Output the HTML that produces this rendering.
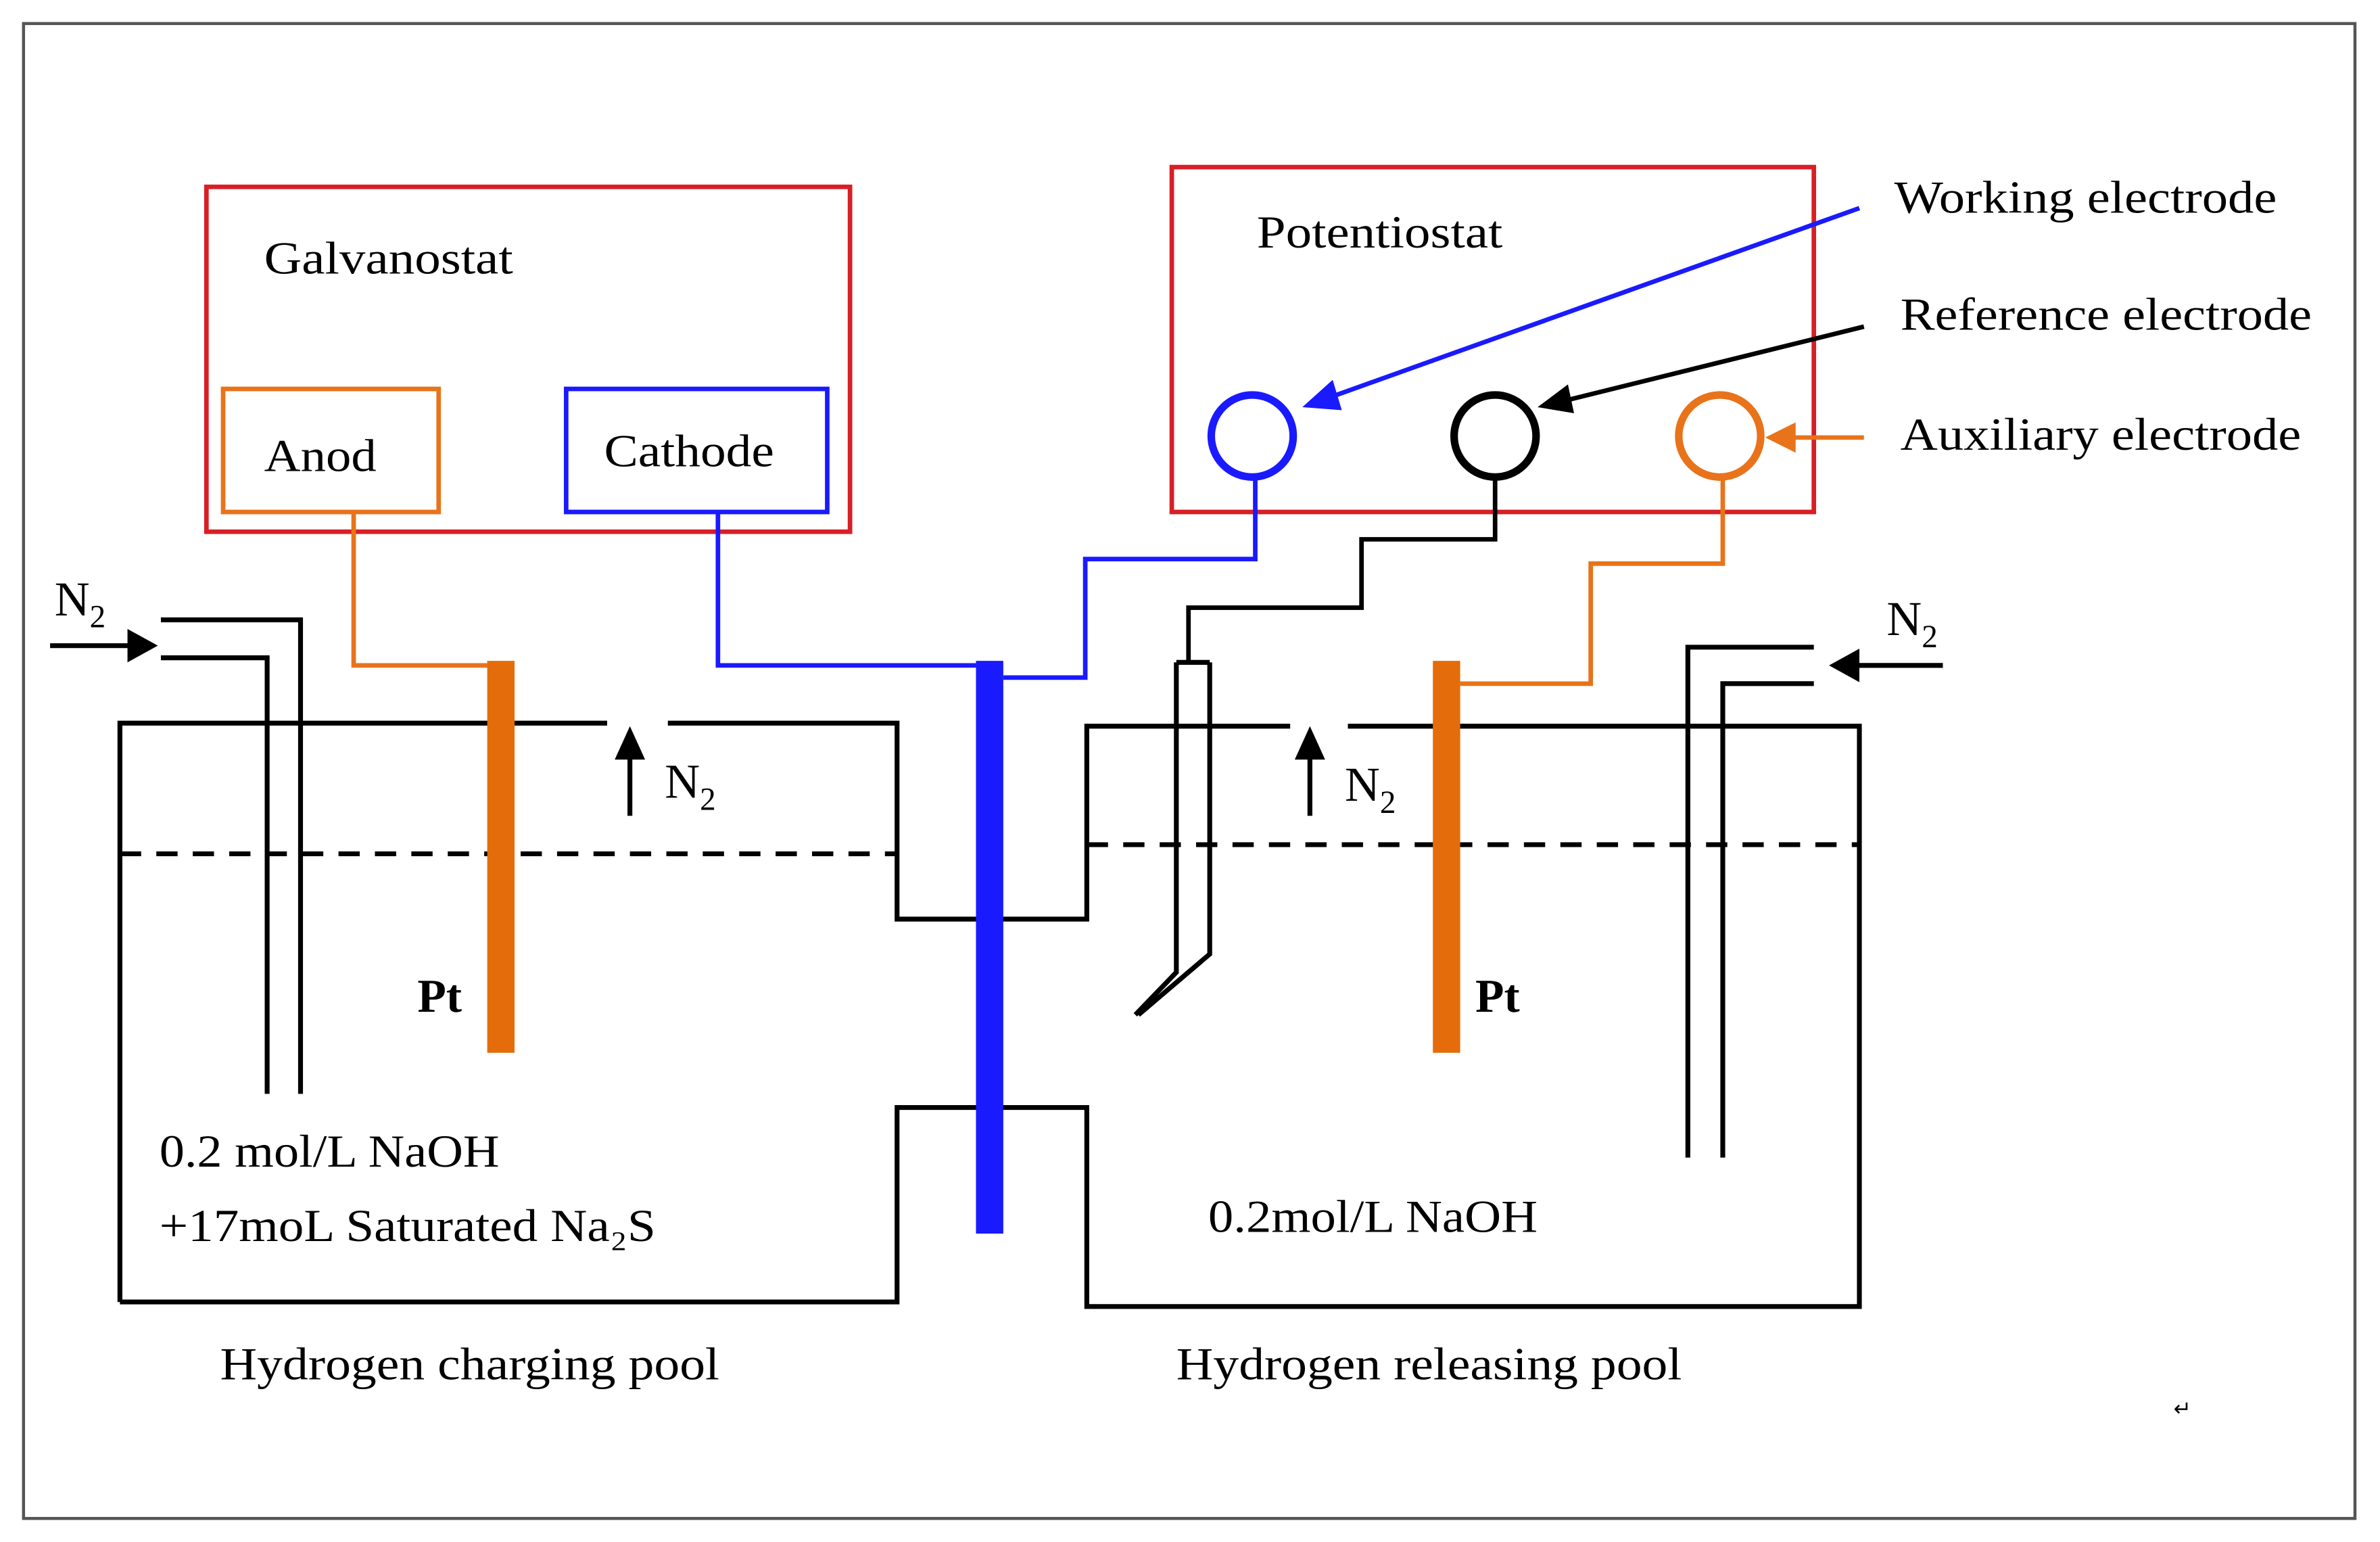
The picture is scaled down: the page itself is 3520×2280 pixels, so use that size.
<!DOCTYPE html>
<html><head><meta charset="utf-8"><style>
html,body{margin:0;padding:0;background:#fff;}
svg{display:block;}
text{font-family:"Liberation Serif",serif;fill:#000;}
</style></head><body>
<svg width="3520" height="2280" viewBox="0 0 1568 1015" preserveAspectRatio="none" xmlns="http://www.w3.org/2000/svg">
<rect x="0" y="0" width="1568" height="1015" fill="#fff"/>
<rect x="15.5" y="15.5" width="1536" height="984" fill="none" stroke="#555" stroke-width="2"/>

<rect x="136" y="123" width="424" height="227" fill="none" stroke="#d81f26" stroke-width="3"/>
<text x="174" y="180" font-size="30" textLength="164" lengthAdjust="spacingAndGlyphs">Galvanostat</text>
<rect x="147" y="256" width="142" height="81" fill="none" stroke="#e8731a" stroke-width="3"/>
<text x="174" y="310" font-size="30" textLength="74" lengthAdjust="spacingAndGlyphs">Anod</text>
<rect x="373" y="256" width="172" height="81" fill="none" stroke="#1a1aff" stroke-width="3"/>
<text x="398" y="307" font-size="30" textLength="112" lengthAdjust="spacingAndGlyphs">Cathode</text>

<rect x="772" y="110" width="423" height="227" fill="none" stroke="#d81f26" stroke-width="3"/>
<text x="828" y="163" font-size="30" textLength="162" lengthAdjust="spacingAndGlyphs">Potentiostat</text>
<circle cx="825" cy="287" r="27" fill="none" stroke="#1a1aff" stroke-width="5"/>
<circle cx="985" cy="287" r="27" fill="none" stroke="#000" stroke-width="5"/>
<circle cx="1133" cy="287" r="27" fill="none" stroke="#e8731a" stroke-width="5"/>

<text x="1248" y="140" font-size="30" textLength="252" lengthAdjust="spacingAndGlyphs">Working electrode</text>
<text x="1252" y="217" font-size="30" textLength="271" lengthAdjust="spacingAndGlyphs">Reference electrode</text>
<text x="1252" y="296" font-size="30" textLength="264" lengthAdjust="spacingAndGlyphs">Auxiliary electrode</text>

<line x1="1225" y1="137" x2="872" y2="263" stroke="#1a1aff" stroke-width="3"/>
<polygon points="858,268 878,250 884,270" fill="#1a1aff"/>
<line x1="1228" y1="215" x2="1030" y2="264" stroke="#000" stroke-width="3"/>
<polygon points="1013,268 1033,253 1037,272" fill="#000"/>
<line x1="1228" y1="288" x2="1180" y2="288" stroke="#e8731a" stroke-width="3"/>
<polygon points="1163,288 1183,278 1183,298" fill="#e8731a"/>

<polyline points="233,337 233,438 322,438" fill="none" stroke="#e8731a" stroke-width="3"/>
<polyline points="473,337 473,438 643,438" fill="none" stroke="#1a1aff" stroke-width="3"/>
<polyline points="827,314 827,368 715,368 715,446 661,446" fill="none" stroke="#1a1aff" stroke-width="3"/>
<polyline points="985,314 985,355 897,355 897,400 783,400 783,436" fill="none" stroke="#000" stroke-width="3"/>
<polyline points="1135,314 1135,371 1048,371 1048,450 962,450" fill="none" stroke="#e8731a" stroke-width="3"/>

<g stroke="#000" stroke-width="3.2" fill="none">
<polyline points="79,857 79,476 400,476"/>
<polyline points="440,476 591,476 591,605 716,605 716,478 850,478"/>
<polyline points="888,478 1225,478 1225,860 716,860 716,729 591,729 591,857 79,857"/>
<line x1="79" y1="562" x2="591" y2="562" stroke-dasharray="14,10"/>
<line x1="716" y1="556" x2="1225" y2="556" stroke-dasharray="14,10"/>
<polyline points="106,408 198,408 198,720"/>
<polyline points="106,433 176,433 176,720"/>
<polyline points="1195,426 1112,426 1112,762"/>
<polyline points="1195,450 1135,450 1135,762"/>
<line x1="33" y1="425" x2="90" y2="425"/>
<line x1="1280" y1="438" x2="1220" y2="438"/>
<line x1="415" y1="537" x2="415" y2="495"/>
<line x1="863" y1="537" x2="863" y2="495"/>
<polyline points="775,436 775,640 748,668"/>
<polyline points="797,436 797,628 750,668"/>
<line x1="775" y1="436" x2="797" y2="436"/>
</g>
<polygon points="104,425 84,414 84,436" fill="#000"/>
<polygon points="1205,438 1225,427 1225,449" fill="#000"/>
<polygon points="415,478 405,500 425,500" fill="#000"/>
<polygon points="863,478 853,500 873,500" fill="#000"/>

<rect x="321" y="435" width="18" height="258" fill="#e46c0a"/>
<rect x="944" y="435" width="18" height="258" fill="#e46c0a"/>
<rect x="643" y="435" width="18" height="377" fill="#1a1aff"/>

<text x="36" y="405" font-size="32">N<tspan font-size="21" dy="8">2</tspan></text>
<text x="1243" y="418" font-size="32">N<tspan font-size="21" dy="8">2</tspan></text>
<text x="438" y="525" font-size="32">N<tspan font-size="21" dy="8">2</tspan></text>
<text x="886" y="527" font-size="32">N<tspan font-size="21" dy="8">2</tspan></text>
<text x="275" y="666" font-size="31" font-weight="bold">Pt</text>
<text x="972" y="666" font-size="31" font-weight="bold">Pt</text>

<text x="105" y="768" font-size="30" textLength="224" lengthAdjust="spacingAndGlyphs">0.2 mol/L NaOH</text>
<text x="105" y="817" font-size="30" textLength="327" lengthAdjust="spacingAndGlyphs">+17moL Saturated Na₂S</text>
<text x="796" y="811" font-size="30" textLength="217" lengthAdjust="spacingAndGlyphs">0.2mol/L NaOH</text>
<text x="145" y="908" font-size="30" textLength="329" lengthAdjust="spacingAndGlyphs">Hydrogen charging pool</text>
<text x="775" y="908" font-size="30" textLength="333" lengthAdjust="spacingAndGlyphs">Hydrogen releasing pool</text>
<text x="1432" y="932" font-size="14" fill="#666">↵</text>
</svg>
</body></html>
